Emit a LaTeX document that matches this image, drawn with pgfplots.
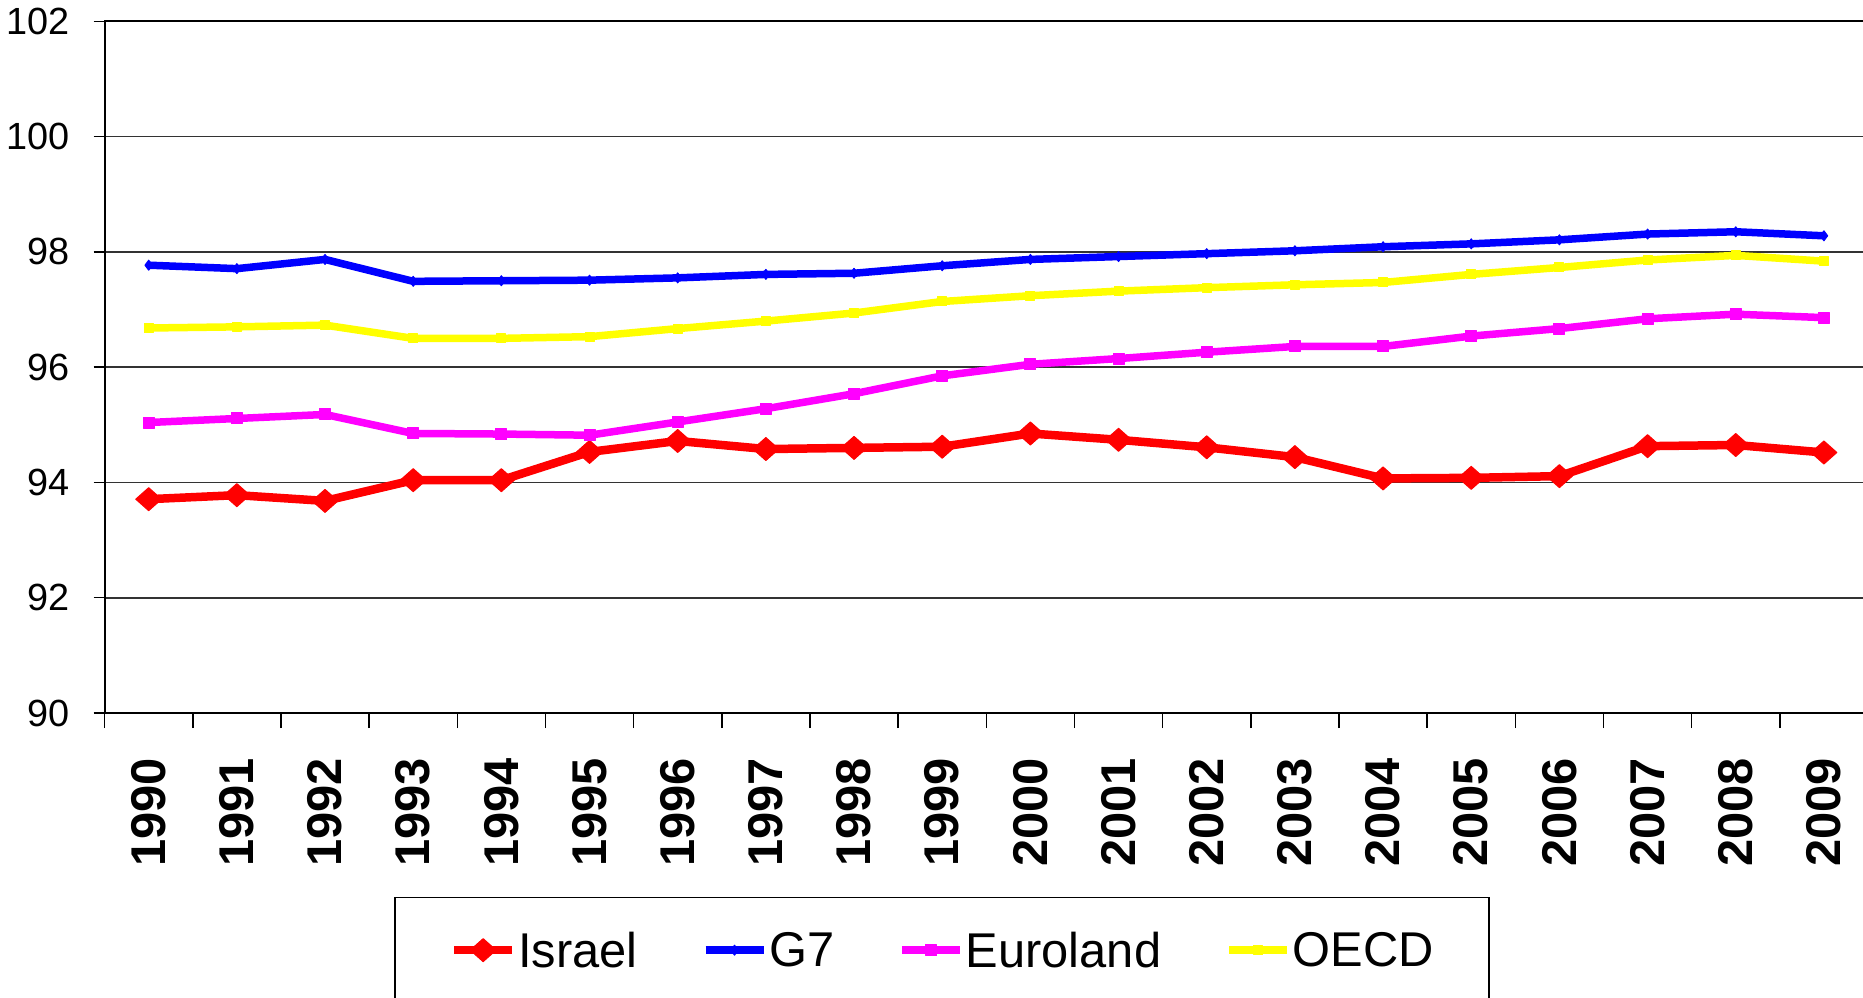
\documentclass[border=0pt]{standalone}
\usepackage{fontspec}
\setmainfont{Liberation Sans}
\usepackage{pgfplots}
\usepackage{pgfplotstable}
\pgfplotsset{compat=1.18}
\definecolor{serRed}{HTML}{FF0000}
\definecolor{serBlue}{HTML}{0000FF}
\definecolor{serMagenta}{HTML}{FF00FF}
\definecolor{serYellow}{HTML}{FFFF00}

\pgfplotstableread{
year israel g7 euroland oecd
1990 93.71 97.77 95.04 96.68
1991 93.78 97.71 95.11 96.70
1992 93.68 97.87 95.18 96.73
1993 94.04 97.49 94.85 96.50
1994 94.04 97.50 94.84 96.50
1995 94.53 97.51 94.82 96.53
1996 94.72 97.55 95.05 96.67
1997 94.58 97.61 95.28 96.80
1998 94.60 97.63 95.54 96.94
1999 94.62 97.76 95.85 97.14
2000 94.85 97.87 96.05 97.24
2001 94.74 97.92 96.15 97.32
2002 94.61 97.97 96.26 97.38
2003 94.44 98.02 96.36 97.43
2004 94.07 98.09 96.36 97.47
2005 94.08 98.14 96.54 97.61
2006 94.11 98.21 96.67 97.73
2007 94.63 98.31 96.84 97.86
2008 94.65 98.35 96.92 97.94
2009 94.52 98.28 96.86 97.84
}\data

\begin{document}
\begin{tikzpicture}
\begin{axis}[
  at={(0,0)}, anchor=south west,
  scale only axis,
  width=1763.4bp, height=691.6bp,
  xmin=1989.5, xmax=2009.5,
  ymin=90, ymax=102,
  xtick={1990,...,2009},
  minor xtick={1989.5,1990.5,...,2009.5},
  ytick={90,92,...,102},
  tick align=outside,
  xtick pos=bottom, ytick pos=left,
  major tick length=11bp,
  minor tick length=15bp,
  major x tick style={draw=none},
  every tick/.append style={black, line width=1.5bp},
  axis line style={black, line width=2bp},
  ymajorgrids,
  major grid style={black!80, line width=1.6bp},
  /pgf/number format/assume math mode=true,
  x tick label style={/pgf/number format/1000 sep={}},
  yticklabel style={font=\fontsize{38}{42}\selectfont, anchor=east, inner sep=0pt},
  xticklabel style={font=\bfseries\fontsize{49}{58}\selectfont, rotate=90, anchor=east, inner sep=0pt},
  yticklabel shift=24bp,
  xticklabel shift=34bp,
  legend columns=4,
  legend style={
    at={(0.1642,-0.266)}, anchor=north west,
    draw=black, line width=1.5bp,
    inner xsep=55bp, inner ysep=34bp,
    font=\fontsize{49}{58}\selectfont,
    nodes={inner sep=0pt},
    /tikz/every odd column/.append style={column sep=2bp},
    /tikz/every even column/.append style={column sep=64bp}
  },
  legend image code/.code={
    \draw[mark repeat=2,mark phase=2,#1] plot coordinates {(0bp,0bp) (29bp,0bp) (58bp,0bp)};
  },
]
\addplot[color=serRed, line width=8.5bp, line join=round, mark=diamond*, mark size=11.5bp,
  mark options={xscale=1.5, line width=1bp, solid}] table[x=year, y=israel] {\data};
\addplot[color=serBlue, line width=7.5bp, line join=round, mark=diamond*, mark size=5bp,
  mark options={line width=1bp, solid}] table[x=year, y=g7] {\data};
\addplot[color=serMagenta, line width=7.5bp, line join=round, mark=square*, mark size=5.5bp,
  mark options={line width=1bp, solid}] table[x=year, y=euroland] {\data};
\addplot[color=serYellow, line width=7.5bp, line join=round, mark=square*, mark size=4.5bp,
  mark options={line width=1bp, solid}] table[x=year, y=oecd] {\data};
\legend{Israel, G7, Euroland, OECD}
\end{axis}
\pgfresetboundingbox
\path[use as bounding box] (-104.6bp,-285bp) rectangle (1758.4bp,713bp);
\end{tikzpicture}
\end{document}
